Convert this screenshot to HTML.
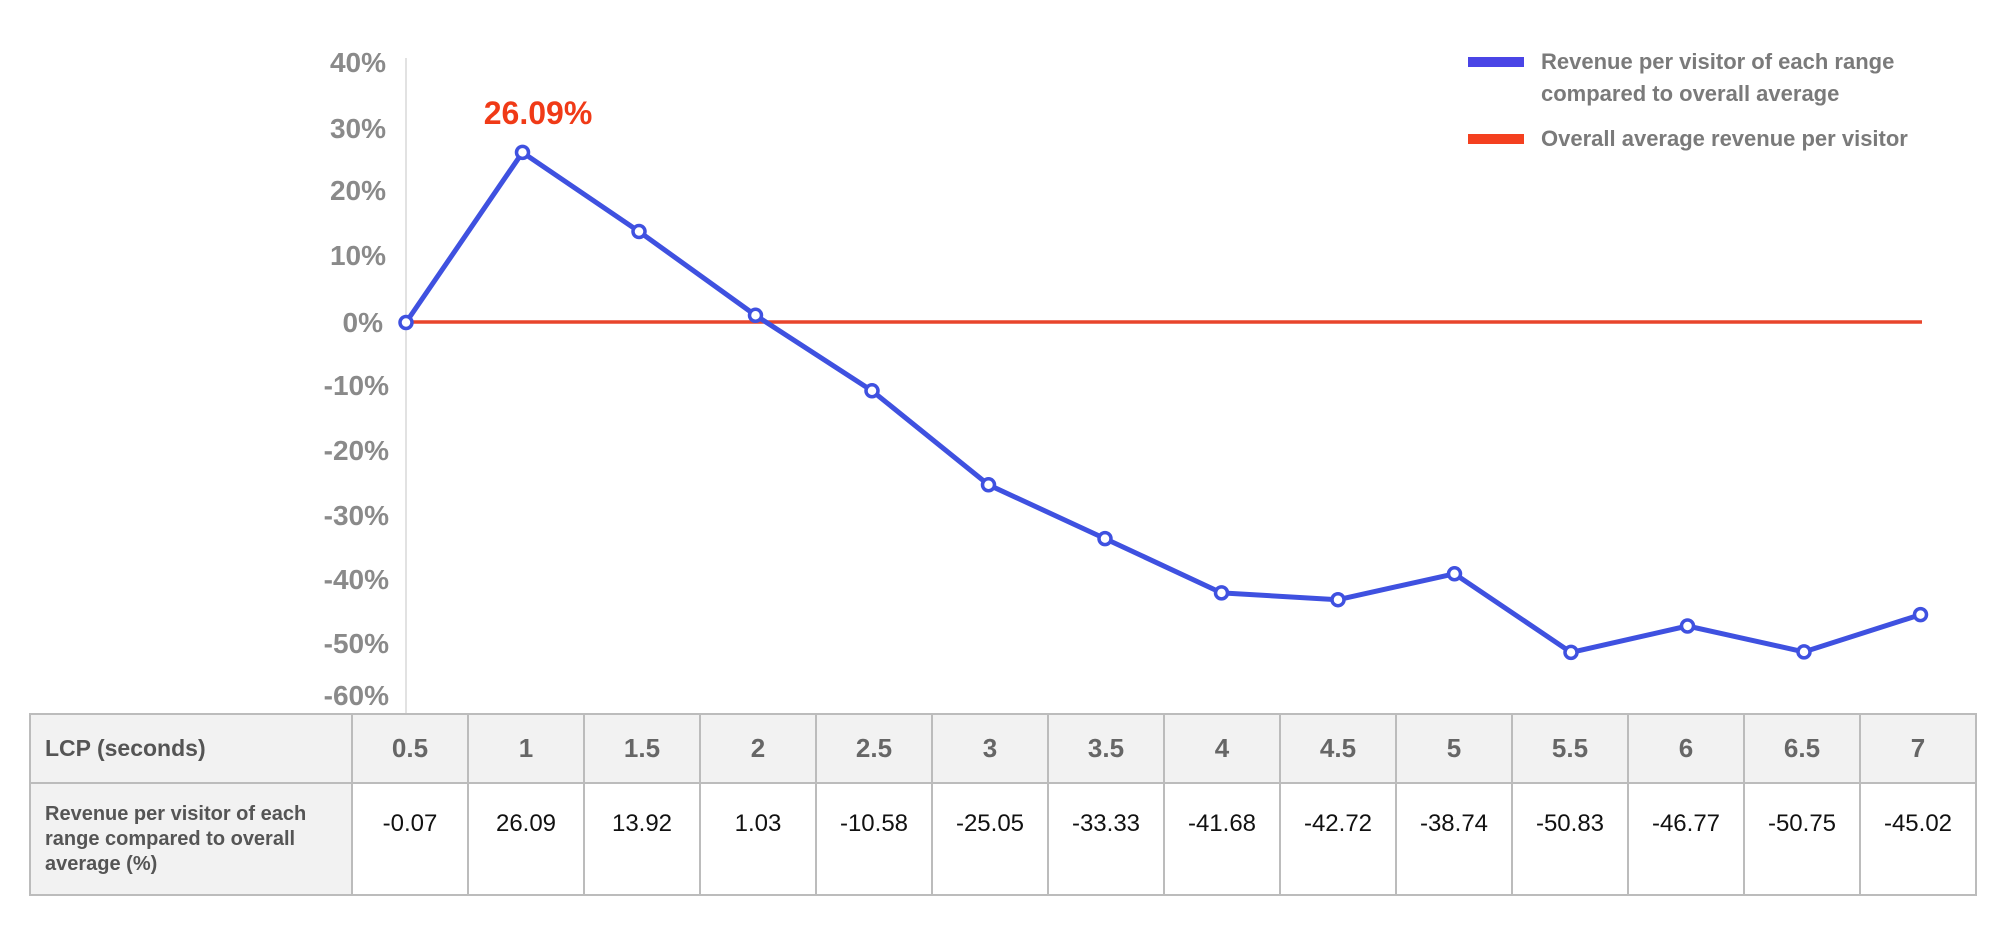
<!DOCTYPE html>
<html><head><meta charset="utf-8"><style>
body{margin:0;background:#fff;width:2000px;height:940px;overflow:hidden;font-family:"Liberation Sans",sans-serif}
table{position:absolute;left:29px;top:713px;border-collapse:collapse;table-layout:fixed}
td{border:2px solid #bcbcbc;text-align:center;padding:0}
.g{background:#f2f2f2}
.h{width:114px;font-size:26px;font-weight:bold;color:#666;background:#f2f2f2}
.d{vertical-align:top;padding-top:26px}
</style></head><body>
<svg width="2000" height="940" style="position:absolute;left:0;top:0">
<line x1="406" y1="58" x2="406" y2="713" stroke="#e2e2e2" stroke-width="2"/>
<g font-family="Liberation Sans" font-weight="bold" font-size="28" fill="#8a8a8a" text-anchor="end">
<text x="386" y="72">40%</text><text x="386" y="138">30%</text><text x="386" y="200">20%</text>
<text x="386" y="265">10%</text><text x="383" y="332">0%</text><text x="389" y="395">-10%</text>
<text x="389" y="460">-20%</text><text x="389" y="525">-30%</text><text x="389" y="589">-40%</text>
<text x="389" y="653">-50%</text><text x="389" y="705">-60%</text>
</g>
<line x1="406" y1="322" x2="1922" y2="322" stroke="#e8452c" stroke-width="3.5"/>
<text x="538" y="124" font-weight="bold" font-size="32" fill="#f03a17" text-anchor="middle">26.09%</text>
<polyline fill="none" stroke="#3f51e0" stroke-width="5" stroke-linejoin="round" points="406,322.5 522.5,152.4 639,231.5 755.5,315.3 872,390.8 988.5,484.8 1105,538.6 1221.5,592.9 1338,599.7 1454.5,573.8 1571,652.4 1687.5,626 1804,651.9 1920.5,614.6"/>
<g fill="#fff" stroke="#3f51e0" stroke-width="3.5">
<circle cx="406" cy="322.5" r="6"/><circle cx="522.5" cy="152.4" r="6"/><circle cx="639" cy="231.5" r="6"/><circle cx="755.5" cy="315.3" r="6"/><circle cx="872" cy="390.8" r="6"/><circle cx="988.5" cy="484.8" r="6"/><circle cx="1105" cy="538.6" r="6"/><circle cx="1221.5" cy="592.9" r="6"/><circle cx="1338" cy="599.7" r="6"/><circle cx="1454.5" cy="573.8" r="6"/><circle cx="1571" cy="652.4" r="6"/><circle cx="1687.5" cy="626" r="6"/><circle cx="1804" cy="651.9" r="6"/><circle cx="1920.5" cy="614.6" r="6"/>
</g>
<rect x="1468" y="57" width="56" height="10" fill="#4a45e6"/>
<rect x="1468" y="134" width="56" height="10" fill="#f4401f"/>
<g font-weight="bold" font-size="22" fill="#7a7a7a">
<text x="1541" y="69">Revenue per visitor of each range</text>
<text x="1541" y="101">compared to overall average</text>
<text x="1541" y="146">Overall average revenue per visitor</text>
</g>
</svg>
<table>
<tr style="height:69px">
<td class="g" style="width:306px;text-align:left;padding-left:14px;font-size:23px;font-weight:bold;color:#555">LCP (seconds)</td>
<td class="h">0.5</td><td class="h">1</td><td class="h">1.5</td><td class="h">2</td><td class="h">2.5</td><td class="h">3</td><td class="h">3.5</td><td class="h">4</td><td class="h">4.5</td><td class="h">5</td><td class="h">5.5</td><td class="h">6</td><td class="h">6.5</td><td class="h">7</td>
</tr>
<tr style="height:112px;font-size:24px;color:#111">
<td class="g" style="text-align:left;padding-left:14px;font-size:20px;font-weight:bold;color:#555;line-height:25px">Revenue per visitor of each<br>range compared to overall<br>average (%)</td>
<td class="d">-0.07</td><td class="d">26.09</td><td class="d">13.92</td><td class="d">1.03</td><td class="d">-10.58</td><td class="d">-25.05</td><td class="d">-33.33</td><td class="d">-41.68</td><td class="d">-42.72</td><td class="d">-38.74</td><td class="d">-50.83</td><td class="d">-46.77</td><td class="d">-50.75</td><td class="d">-45.02</td>
</tr>
</table>
</body></html>
